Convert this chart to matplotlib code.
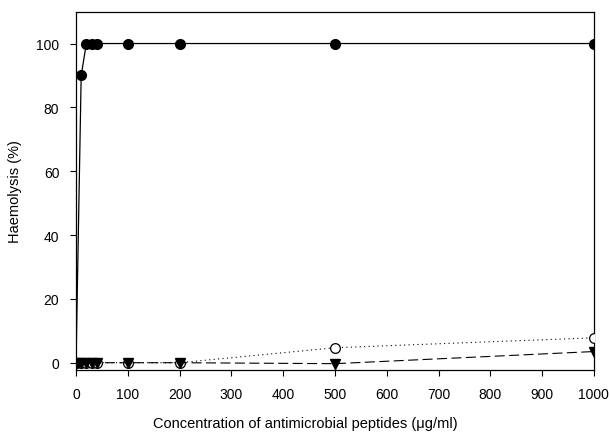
import matplotlib
matplotlib.use("Agg")
import matplotlib.pyplot as plt


OUTPUT = "out.png"

# concentrations (ug/ml)
conc = [0, 10, 20, 30, 40, 100, 200, 500, 1000]

# haemolysis (%) for each peptide
haem_filled = [0, 90, 100, 100, 100, 100, 100, 100, 100]
haem_open = [0, 0, 0, 0, 0, 0, 0, 4.7, 7.8]
haem_triangle = [0, 0, 0, 0, 0, 0, 0, -0.3, 3.5]

x_ticks = [0, 100, 200, 300, 400, 500, 600, 700, 800, 900, 1000]
y_ticks = [0, 20, 40, 60, 80, 100]


def main():
    plt.rcParams["font.family"] = ["Liberation Sans", "DejaVu Sans"]

    fig = plt.figure(figsize=(6.1, 4.35), dpi=100)
    ax = fig.add_axes([0.1246, 0.147, 0.849, 0.824])

    ax.plot(conc, haem_open, linestyle=(0, (1, 3)), color="black", linewidth=0.8,
            marker="o", markersize=7, markerfacecolor="white",
            markeredgecolor="black", markeredgewidth=0.9, zorder=3)
    ax.plot(conc, haem_triangle, linestyle=(0, (9, 4)), color="black", linewidth=0.8,
            marker="v", markersize=7, markerfacecolor="black",
            markeredgecolor="black", zorder=4)
    ax.plot(conc, haem_filled, linestyle="-", color="black", linewidth=0.9,
            marker="o", markersize=7, markerfacecolor="black",
            markeredgecolor="black", zorder=5)

    ax.set_xlim(0, 1000)
    ax.set_ylim(-2.3, 110)
    ax.set_xticks(x_ticks)
    ax.set_yticks(y_ticks)
    ax.tick_params(direction="out", length=4, width=0.8, labelsize=10, pad=8)
    for spine in ax.spines.values():
        spine.set_linewidth(0.9)

    # the x title sits centred on the page, not on the axes
    fig.text(0.5, 0.01, "Concentration of antimicrobial peptides (μg/ml)",
             fontsize=10.5, ha="center", va="bottom")
    ax.set_ylabel("Haemolysis (%)", fontsize=10.5, labelpad=10)

    fig.savefig(OUTPUT, dpi=100)
    plt.close(fig)


if __name__ == "__main__":
    main()
